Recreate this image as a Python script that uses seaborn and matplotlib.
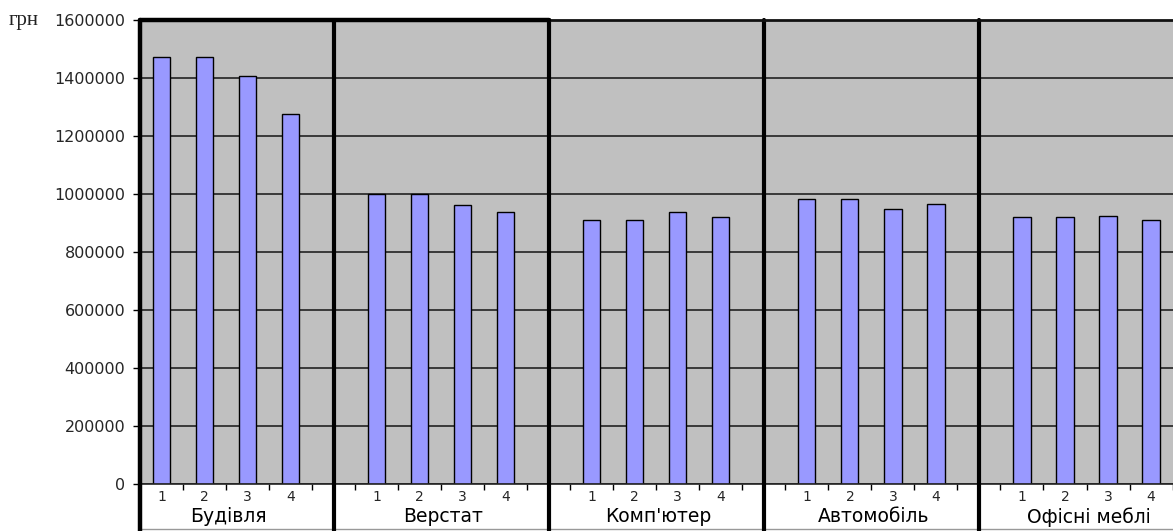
import matplotlib
matplotlib.use("Agg")
import matplotlib.pyplot as plt
import matplotlib.lines as mlines
import numpy as np
import pandas as pd
import seaborn as sns

# Asset categories and the four periods within each
groups = ["Будівля", "Верстат", "Комп'ютер", "Автомобіль", "Офісні меблі"]
periods = ["1", "2", "3", "4"]

# Values, UAH
building = [1472000, 1472000, 1407000, 1275000]
machine = [1000000, 1000000, 962000, 938000]
computer = [910000, 910000, 938000, 920000]
car = [983000, 983000, 947000, 965000]
furniture = [920000, 920000, 924000, 910000]

y_ticks = [0, 200000, 400000, 600000, 800000, 1000000, 1200000, 1400000, 1600000]
unit_label = "грн"

series = [building, machine, computer, car, furniture]
slot = 5  # four bars plus one separator slot per group
rows = []
for g, (name, vals) in enumerate(zip(groups, series)):
    for k, v in enumerate(vals):
        rows.append({"group": name, "period": periods[k],
                     "pos": g * slot + k + 1, "value": v})
df = pd.DataFrame(rows)

sns.set_style("white")
plt.rcParams["font.family"] = ["DejaVu Sans"]

W, H = 1173, 531
fig = plt.figure(figsize=(W / 100, H / 100), dpi=100)
ax_left, ax_bottom, ax_top = 140, 484, 20
ax = fig.add_axes([ax_left / W, (H - ax_bottom) / H, 1 - ax_left / W,
                   (ax_bottom - ax_top) / H])
ax.set_facecolor("#C0C0C0")

sns.barplot(data=df, x="pos", y="value", native_scale=True, width=0.4,
            color="#9999FF", saturation=1, edgecolor="black", linewidth=1,
            errorbar=None, ax=ax, zorder=3)

ax.set_xlim(0.5, 24.51)
ax.set_ylim(0, 1600000)

# Horizontal grid
ax.set_yticks(y_ticks)
ax.set_yticklabels([str(t) for t in y_ticks], fontsize=11.5)
ax.yaxis.grid(True, color="#222222", linewidth=1.2, zorder=1)
ax.xaxis.grid(False)
ax.set_axisbelow(True)
ax.tick_params(axis="y", direction="out", length=5, width=1, color="black",
               pad=5.5, left=True)

# Tick marks between categories, period numbers under bars
half = np.arange(0.5, 25, 1.0)
ax.set_xticks(half)
ax.set_xticklabels([""] * len(half))
ax.set_xticks(df["pos"].to_numpy(), minor=True)
ax.set_xticklabels(df["period"].tolist(), minor=True, fontsize=10)
ax.tick_params(axis="x", which="major", direction="out", length=4, width=1,
               color="black", bottom=True)
ax.tick_params(axis="x", which="minor", length=0, pad=4)
ax.set_xlabel("")
ax.set_ylabel("")

for side in ["left", "right", "top", "bottom"]:
    ax.spines[side].set_visible(False)

below = (ax_bottom - H) / (ax_bottom - ax_top)  # figure bottom in axes units
xt = ax.get_xaxis_transform()

# Left frame and group separators running into the label band
ax.add_line(mlines.Line2D([0.5, 0.5], [below, 1], transform=xt, color="black",
                          lw=3.2, clip_on=False, zorder=5))
for g in range(1, len(groups)):
    ax.add_line(mlines.Line2D([g * slot, g * slot], [below, 1], transform=xt,
                              color="black", lw=3, clip_on=False, zorder=5))

# Top frame and baseline
ax.add_line(mlines.Line2D([0.5, 24.51], [1, 1], transform=xt, color="#111111",
                          lw=2, clip_on=False, zorder=5))
ax.add_line(mlines.Line2D([0.5, 10], [1, 1], transform=xt, color="black",
                          lw=3.2, clip_on=False, zorder=6))
ax.add_line(mlines.Line2D([0.5, 24.51], [0, 0], transform=xt, color="#222222",
                          lw=1.2, clip_on=False, zorder=4))
ax.add_line(mlines.Line2D([0.5, 24.51], [below + 0.004, below + 0.004],
                          transform=xt, color="#999999", lw=1, clip_on=False))

# Group names
label_y = -(517 - ax_bottom) / (ax_bottom - ax_top)
for g, name in enumerate(groups):
    ax.text(g * slot + 2.55, label_y, name, transform=xt, ha="center",
            va="center", fontsize=13.5, color="black")

fig.text(9 / W, 1 - 20 / H, unit_label, ha="left", va="center",
         fontsize=15, family=["Liberation Serif", "DejaVu Serif"],
         color="#222222")

fig.savefig("out.png", dpi=100, facecolor="white")
